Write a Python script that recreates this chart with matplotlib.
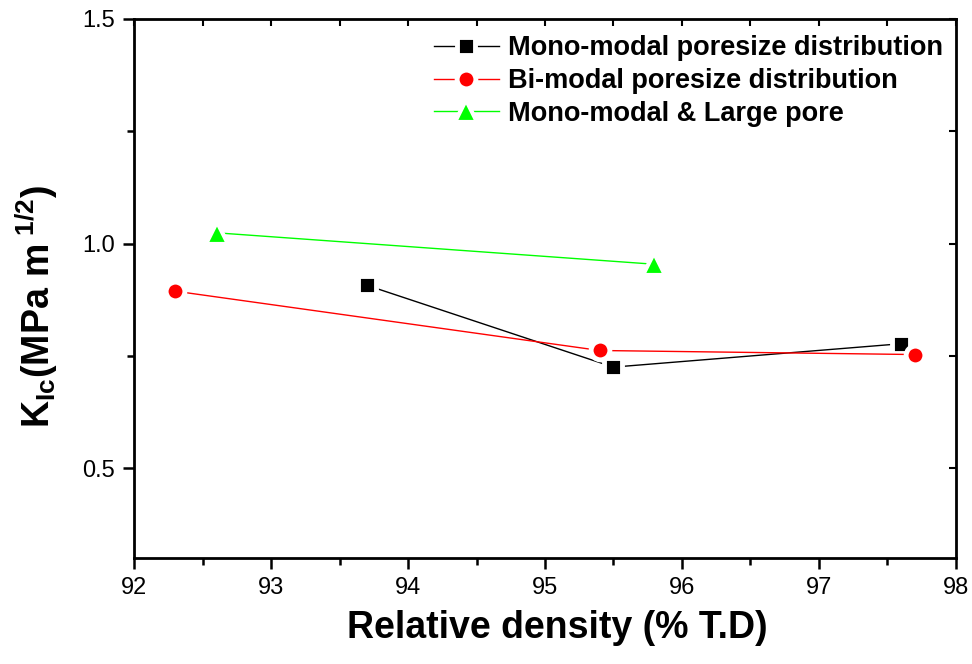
import matplotlib
matplotlib.use('Agg')
import matplotlib.pyplot as plt
from matplotlib.ticker import MultipleLocator

plt.rcParams['font.family'] = ['Liberation Sans', 'DejaVu Sans']
plt.rcParams['mathtext.fontset'] = 'custom'
plt.rcParams['mathtext.rm'] = 'Liberation Sans:bold'
plt.rcParams['mathtext.bf'] = 'Liberation Sans:bold'
plt.rcParams['mathtext.it'] = 'Liberation Sans:bold'

# data
mono_x = [93.7, 95.5, 97.6]
mono_y = [0.907, 0.725, 0.777]
bi_x = [92.3, 95.4, 97.7]
bi_y = [0.894, 0.762, 0.753]
large_x = [92.6, 95.8]
large_y = [1.024, 0.954]
labels = ['Mono-modal poresize distribution',
          'Bi-modal poresize distribution',
          'Mono-modal & Large pore']

fig = plt.figure(figsize=(9.72, 6.64), dpi=100)
ax = fig.add_axes([0.1383, 0.1596, 0.8448, 0.8118])

# white marker edge gives the small gap between line and symbol
ax.plot(mono_x, mono_y, color='black', lw=1, marker='s', ms=12.5,
        mfc='black', mec='white', mew=3.5, label=labels[0])
ax.plot(bi_x, bi_y, color='red', lw=1, marker='o', ms=13.5,
        mfc='red', mec='white', mew=3.5, label=labels[1])
ax.plot(large_x, large_y, color='#00ff00', lw=1, marker='^', ms=15.5,
        mfc='#00ff00', mec='white', mew=3, label=labels[2])

ax.set_xlim(92, 98)
ax.set_ylim(0.3, 1.5)
ax.xaxis.set_major_locator(MultipleLocator(1))
ax.xaxis.set_minor_locator(MultipleLocator(0.5))
ax.set_yticks([0.5, 1.0, 1.5])
ax.yaxis.set_minor_locator(MultipleLocator(0.25))
ax.yaxis.set_major_formatter(matplotlib.ticker.FormatStrFormatter('%.1f'))

for s in ax.spines.values():
    s.set_linewidth(2)
ax.tick_params(which='both', direction='out', width=1.8, labelsize=17,
               top=False, right=False)
ax.tick_params(which='major', length=8, pad=6)
ax.tick_params(which='minor', length=5)

# inward ticks on top and right
sec_x = ax.secondary_xaxis('top')
sec_x.xaxis.set_major_locator(MultipleLocator(0.5))
sec_x.tick_params(direction='in', length=5, width=1.5, labeltop=False)
sec_y = ax.secondary_yaxis('right')
sec_y.yaxis.set_major_locator(MultipleLocator(0.25))
sec_y.tick_params(direction='in', length=5, width=1.5, labelright=False)

ax.set_xlabel('Relative density (% T.D)', fontsize=27, fontweight='bold')
ax.xaxis.set_label_coords(0.515, -0.097)
ax.set_ylabel(r'$\mathbf{K_{Ic}(MPa\ m^{\ 1/2})}$', fontsize=27)
ax.yaxis.set_label_coords(-0.091, 0.466)

leg = ax.legend(loc='upper right', frameon=False, fontsize=19.5, numpoints=1,
                handlelength=2.4, handletextpad=0.35, labelspacing=0.25,
                borderaxespad=0.0, bbox_to_anchor=(0.998, 0.99))
for t in leg.get_texts():
    t.set_fontweight('bold')

fig.savefig('out.png', dpi=100)
